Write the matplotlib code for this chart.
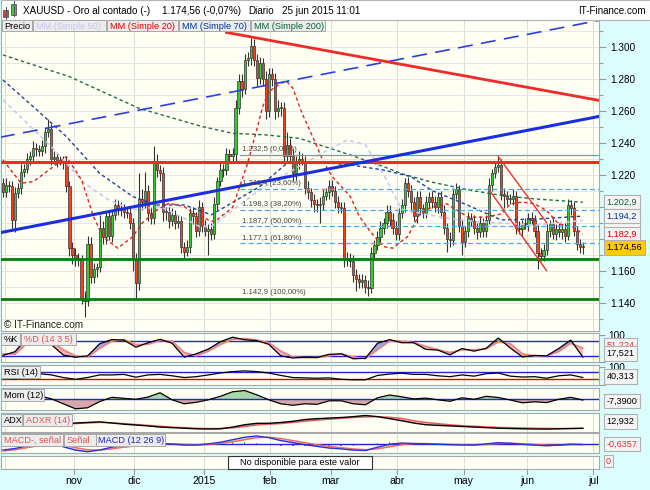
import matplotlib
matplotlib.use("Agg")
import matplotlib.pyplot as plt
from matplotlib.patches import Rectangle
from matplotlib.transforms import blended_transform_factory
import numpy as np
import pandas as pd

W, H = 650, 490
plt.rcParams['font.family'] = ['Liberation Sans', 'DejaVu Sans']
FS = 7.2      # price scale
FS_LBL = 6.6  # legend / panel labels
FS_BOX = 6.6  # value boxes

# ---- XAUUSD daily candles ----
dates = pd.bdate_range("2014-09-30", "2015-06-25")
first_open = 1215.0
closes = [
    1209.0, 1214.0, 1213.0, 1192.0, 1208.5, 1212.0, 1222.0, 1224.0, 1230.0, 1232.0,
    1237.0, 1236.0, 1235.0, 1238.0, 1247.0, 1249.0, 1230.0, 1231.0, 1229.0, 1229.0,
    1228.0, 1213.0, 1174.0, 1170.0, 1168.0, 1167.0, 1143.0, 1141.0, 1177.0, 1156.0,
    1161.0, 1162.0, 1187.0, 1181.0, 1194.0, 1182.0, 1195.0, 1201.0, 1198.0, 1199.0,
    1197.0, 1196.0, 1190.0, 1167.0, 1152.0, 1205.0, 1203.0, 1210.0, 1196.0, 1193.0,
    1229.0, 1223.0, 1221.0, 1197.0, 1197.0, 1191.0, 1195.0, 1190.0, 1191.0, 1175.0,
    1172.0, 1175.0, 1196.0, 1194.0, 1185.0, 1200.0, 1188.0, 1185.0, 1186.0, 1183.0,
    1202.0, 1216.0, 1223.0, 1223.0, 1233.0, 1232.0, 1233.0, 1262.0, 1279.0, 1274.0,
    1292.0, 1293.0, 1301.0, 1292.0, 1281.0, 1290.0, 1280.0, 1260.0, 1283.0, 1280.0,
    1260.0, 1262.0, 1262.0, 1232.0, 1239.0, 1232.0, 1221.0, 1228.0, 1230.0, 1229.0,
    1212.0, 1209.0, 1204.0, 1202.0, 1201.0, 1202.0, 1207.0, 1209.0, 1213.0, 1210.0,
    1203.0, 1200.0, 1199.0, 1167.0, 1168.0, 1166.0, 1157.0, 1155.0, 1153.0, 1154.0,
    1150.0, 1149.0, 1171.0, 1176.0, 1181.0, 1187.0, 1190.0, 1197.0, 1192.0, 1187.0,
    1183.0, 1196.0, 1201.0, 1215.0, 1210.0, 1203.0, 1194.0, 1206.0, 1199.0, 1196.0,
    1203.0, 1206.0, 1203.0, 1200.0, 1206.0, 1197.0, 1187.0, 1180.0, 1179.0, 1208.0,
    1211.0, 1188.0, 1178.0, 1185.0, 1193.0, 1191.0, 1187.0, 1184.0, 1190.0, 1185.0,
    1192.0, 1214.0, 1221.0, 1225.0, 1226.0, 1208.0, 1207.0, 1205.0, 1205.0, 1207.0,
    1187.0, 1186.0, 1189.0, 1189.0, 1193.0, 1192.0, 1185.0, 1171.0, 1169.0, 1173.0,
    1185.0, 1189.0, 1183.0, 1186.0, 1184.0, 1186.0, 1182.0, 1201.0, 1199.0, 1185.0,
    1177.0, 1175.0, 1174.56]
wick_up = [
    3, 4, 2, 3, 4, 3, 5, 3, 4, 3,  4, 3, 3, 4, 3, 6, 3, 4, 3, 3,
    3, 4, 3, 4, 4, 3, 3, 4, 5, 4,  4, 3, 8, 4, 3, 4, 3, 4, 3, 4,
    3, 3, 4, 3, 4, 16, 6, 12, 4, 4,  9, 4, 3, 4, 3, 3, 4, 3, 4, 3,
    3, 4, 3, 4, 3, 4, 3, 4, 3, 4,  4, 3, 5, 4, 4, 3, 4, 5, 4, 4,
    4, 4, 5, 4, 4, 4, 3, 5, 4, 4,  4, 5, 4, 4, 8, 4, 4, 4, 5, 4,
    3, 4, 3, 4, 3, 4, 4, 3, 4, 4,  3, 4, 3, 4, 4, 3, 4, 4, 3, 4,
    3, 4, 4, 3, 4, 4, 3, 4, 4, 4,  4, 3, 4, 3, 4, 4, 3, 4, 4, 3,
    4, 3, 4, 4, 3, 4, 4, 3, 4, 4,  4, 3, 4, 3, 4, 3, 4, 3, 4, 3,
    3, 4, 3, 4, 5, 4, 4, 3, 3, 4,  3, 4, 3, 4, 3, 4, 3, 4, 3, 4,
    4, 3, 4, 3, 4, 3, 4, 4, 3, 4,  3, 3, 3]
wick_dn = [
    3, 3, 4, 7, 8, 3, 4, 3, 3, 4,  3, 4, 3, 3, 4, 3, 4, 3, 4, 3,
    4, 4, 5, 6, 5, 4, 4, 10, 3, 4,  4, 5, 3, 4, 4, 3, 4, 3, 3, 4,
    4, 3, 4, 7, 9, 4, 5, 4, 5, 4,  4, 4, 5, 6, 5, 4, 3, 4, 3, 4,
    4, 3, 4, 5, 4, 3, 4, 3, 15, 4,  3, 4, 3, 4, 3, 4, 3, 4, 4, 5,
    3, 4, 4, 4, 5, 4, 4, 5, 4, 4,  5, 4, 5, 4, 4, 4, 5, 4, 4, 3,
    4, 4, 4, 5, 4, 11, 4, 3, 4, 3,  4, 4, 3, 5, 4, 4, 4, 8, 4, 4,
    4, 5, 3, 4, 3, 4, 4, 3, 4, 4,  4, 4, 3, 4, 4, 6, 3, 4, 4, 3,
    3, 4, 4, 3, 4, 4, 4, 8, 4, 3,  3, 4, 8, 3, 4, 3, 4, 4, 3, 4,
    4, 3, 4, 3, 3, 4, 8, 4, 3, 4,  4, 3, 4, 3, 4, 3, 4, 10, 3, 3,
    3, 4, 3, 4, 3, 4, 4, 3, 4, 3,  4, 4, 4]

# moving averages, read at a few bars (bar index, value)
mm20_idx = [0, 6, 10, 16, 21, 26, 30, 33, 38, 43, 46, 51, 55, 60, 63, 68, 70, 76, 81, 84,
            86, 88, 92, 94, 96, 99, 103, 106, 109, 115, 118, 122, 126, 129, 134, 138, 142,
            147, 154, 160, 165, 168, 172, 176, 180, 184, 189, 192]
mm20_val = [1229.4, 1214.8, 1215.8, 1224.2, 1231.5, 1216.9, 1193.9, 1181.4, 1174.1, 1181.4,
            1189.7, 1198.1, 1202.3, 1200.2, 1196.0, 1191.8, 1190.7, 1199.5, 1227.3, 1248.2,
            1262.8, 1272.2, 1277.5, 1278.5, 1274.3, 1258.7, 1242.0, 1228.5, 1219.0, 1206.5,
            1194.0, 1183.6, 1175.1, 1174.1, 1181.4, 1195.6, 1199.8, 1201.9, 1193.5, 1193.5,
            1195.6, 1201.9, 1203.0, 1201.9, 1197.7, 1189.3, 1187.2, 1182.9]
mm50_idx = [0, 16, 27, 35, 43, 52, 59, 65, 69, 85, 96, 105, 114, 120, 127, 132, 138, 148,
            158, 165, 176, 192]
mm50_val = [1267.0, 1237.8, 1214.8, 1204.4, 1198.1, 1200.2, 1193.9, 1187.7, 1187.7, 1210.6,
            1223.1, 1233.0, 1241.9, 1239.0, 1216.9, 1198.5, 1196.0, 1192.6, 1190.5, 1190.0,
            1188.5, 1191.5]
mm70_idx = [0, 10, 21, 32, 43, 51, 60, 69, 85, 94, 102, 115, 126, 135, 142, 154, 165, 178, 192]
mm70_val = [1279.5, 1262.8, 1244.0, 1221.0, 1206.4, 1201.2, 1201.2, 1195.0, 1212.7, 1227.3,
            1228.4, 1226.3, 1223.1, 1219.0, 1210.3, 1200.9, 1191.8, 1192.5, 1194.2]
mm200_idx = [0, 22, 45, 66, 76, 87, 98, 115, 126, 132, 142, 154, 165, 176, 192]
mm200_val = [1295.2, 1281.6, 1261.8, 1250.3, 1246.1, 1245.1, 1243.0, 1232.5, 1225.2, 1220.8,
             1215.5, 1210.7, 1207.1, 1205.0, 1202.9]

# drawn trend lines and levels
blue_idx, blue_val = [-1, 198], [1183.8, 1256.9]
blue_dash_idx, blue_dash_val = [-1, 198], [1243.6, 1317.1]
red_idx, red_val = [74, 198], [1309.3, 1266.5]
chan_up_idx, chan_up_val = [164, 180], [1231.5, 1190.1]
chan_lo_idx, chan_lo_val = [161, 180], [1210.6, 1160.0]
red_level = 1228.3
green_levels = [1167.5, 1142.5]
fib_start = 78.5
fib_levels = [1232.5, 1211.4, 1198.3, 1187.7, 1177.1, 1142.9]
fib_pcts = ["0,00%", "23,60%", "38,20%", "50,00%", "61,80%", "100,00%"]

# indicators, read every 4 bars
ind_idx = list(range(0, 193, 4))
stoch_k = [24, 38, 92, 90, 65, 25, 17, 22, 68, 84, 82, 55, 72, 85, 70, 17, 30, 48, 76, 93,
           83, 80, 66, 22, 14, 17, 16, 28, 30, 11, 13, 70, 84, 72, 72, 47, 44, 26, 50, 40,
           51, 90, 52, 18, 24, 22, 50, 82, 17.521]
stoch_d = [30, 28, 70, 88, 78, 45, 22, 18, 50, 78, 84, 65, 66, 80, 78, 35, 22, 40, 65, 85,
           88, 82, 72, 40, 18, 15, 16, 22, 30, 18, 12, 45, 78, 78, 73, 58, 46, 35, 45, 45,
           48, 75, 68, 30, 22, 22, 38, 70, 51.224]
rsi = [36, 32, 40, 62, 55, 40, 30, 40, 55, 55, 58, 42, 55, 58, 50, 40, 45, 55, 66, 74,
       78, 74, 66, 52, 40, 38, 36, 38, 30, 27, 27, 52, 60, 65, 58, 58, 50, 45, 55, 48,
       62, 66, 48, 43, 45, 36, 50, 55, 40.313]
mom = [5, 12, 28, 35, 5, -45, -95, -85, -23, 20, 10, 0, 22, 65, -5, -45, -30, -5, 30, 75,
       88, 45, -5, -45, -60, -45, -50, -15, -15, -45, -55, 15, 43, 25, 4, 12, -5, -20, 15, 0,
       30, 18, -7, -35, -25, -33, 0, 20, -7.39]
adx = [20, 19, 18, 18, 19, 20, 22, 23, 24, 22, 20, 18.5, 17, 15, 14, 13, 12, 11.7, 12, 15,
       19, 21.5, 21.5, 23, 25, 28, 29.5, 30.5, 31.5, 33, 35, 33, 29.5, 26, 22, 19, 18, 17, 16,
       15, 14, 13, 12.5, 12, 11.7, 11.5, 12, 12.5, 12.932]
adxr = [20, 19.5, 19, 18.5, 19, 19.5, 21, 22, 23, 22.5, 21, 19.5, 18, 16.5, 15, 14, 13, 12.5,
        12.5, 13.5, 16, 18.5, 20, 21, 23, 25, 27, 28.5, 30, 31.5, 32.5, 33, 32, 30, 26, 23, 21,
        19, 17.5, 16.5, 15.5, 14.5, 14, 13.5, 13, 12.8, 12.5, 12.5, 12.7]
macd = [-14, -10, -4, 1, 2, -6, -14, -17.8, -13.7, -7, -3, -1, 2, 2.4, 0.5, -1.7, -1.7, 1, 5,
        11, 17, 20, 16, 9, 4, -1, -5, -9, -11, -14, -15, -7, 0, 3, 2, 1, 0, -1, -1.5, -1.7,
        1, 4, 2.5, 0, -2, -3.5, -2, 0.5, -0.6357]
signal = [-16, -13, -8, -3, 0, -2, -8, -13, -14, -11, -7, -4, -1, 1, 1, 0, -1, -0.5, 2, 6,
          11, 16, 17, 14, 9, 4, -1, -5, -8, -11, -13, -11, -6, -1, 1.5, 2, 1, 0, -1, -1.5,
          -0.5, 2, 2.5, 1.5, 0, -2, -2.5, -1, -0.3]

MONTHS = ['2015', 'feb', 'mar', 'abr', 'may', 'jun', 'jul', 'ago', 'sep', 'oct', 'nov', 'dic']


def es(v, dec):
    # spanish number format: 1.234,5
    s = f"{v:,.{dec}f}"
    return s.replace(',', '#').replace('.', ',').replace('#', '.')


fig = plt.figure(figsize=(W / 100, H / 100), dpi=100)
fig.patch.set_facecolor('#dcfdfd')


def px_axes(x0, y0, x1, y1):
    return fig.add_axes([x0 / W, 1 - y1 / H, (x1 - x0) / W, (y1 - y0) / H])


XL = (-0.66, 197.35)
cal = pd.bdate_range("2014-09-30", "2015-07-10")
month_edges = [i - 0.5 for i in range(1, len(cal)) if cal[i].month != cal[i - 1].month]
month_names = [MONTHS[cal[i].month - 1] for i in range(1, len(cal)) if cal[i].month != cal[i - 1].month]


def style_panel(a, lo, hi):
    a.set_facecolor('#fffff4')
    a.set_xlim(XL)
    a.set_ylim(lo, hi)
    for s in a.spines.values():
        s.set_color('#a8a8a8')
        s.set_linewidth(0.8)
    a.set_xticks([])
    a.yaxis.tick_right()
    a.tick_params(axis='y', length=4, color='#999999', labelsize=FS, pad=3)
    a.set_yticks([])
    for e in month_edges:
        a.axvline(e, color='#dedede', lw=0.8, zorder=0)


# ---------------- main price panel ----------------
ax = px_axes(1, 20, 599, 331)
style_panel(ax, 1122.2, 1317.1)
ax.set_yticks(range(1140, 1301, 20))
ax.set_yticklabels([es(v, 0) for v in range(1140, 1301, 20)])
ax.set_yticks(range(1130, 1311, 10), minor=True)
ax.tick_params(axis='y', which='major', length=5, width=0.8)
ax.tick_params(axis='y', which='minor', length=3, width=0.8, color='#999999')
ax.grid(axis='y', which='both', color='#e6e6e6', lw=0.7)
ax.set_axisbelow(True)

idx = np.arange(len(closes))
c = np.array(closes)
o = np.r_[first_open, c[:-1]]
lo_b = np.minimum(o, c)
hi_b = np.maximum(o, c)
cols = np.where(c >= o, '#33cc33', '#ff3c1c')
ax.vlines(idx, lo_b - np.array(wick_dn), hi_b + np.array(wick_up), color='#333333', lw=0.8, zorder=2)
ax.bar(idx, np.maximum(hi_b - lo_b, 0.6), bottom=lo_b, width=0.72, color=cols,
       edgecolor='#333333', linewidth=0.5, zorder=3)

dash = (0, (2.5, 2))
ax.plot(mm200_idx, mm200_val, color='#1f7045', lw=1.0, ls=dash, zorder=4)
ax.plot(mm70_idx, mm70_val, color='#1f3fa0', lw=1.0, ls=dash, zorder=4)
ax.plot(mm50_idx, mm50_val, color='#c8c8f2', lw=1.2, ls=dash, zorder=4)
ax.plot(mm20_idx, mm20_val, color='#dd2222', lw=1.0, ls=dash, zorder=4)

for lev, pct in zip(fib_levels, fib_pcts):
    ls = '-' if pct == "0,00%" else (0, (4, 2.5))
    if pct != "100,00%":
        ax.plot([fib_start, XL[1]], [lev, lev], color='#44aaee', lw=0.9, ls=ls, zorder=4)
    ax.text(fib_start + 0.7, lev + 3.3, f"{es(lev, 1)} ({pct})", fontsize=5.6,
            color='#444444', va='center', ha='left', zorder=6)

ax.axhline(red_level, color='#ee2a2a', lw=2.2, zorder=5)
for g in green_levels:
    ax.axhline(g, color='#0a7a0a', lw=2.0, zorder=5)
ax.plot(blue_idx, blue_val, color='#1a2ee0', lw=2.2, zorder=5)
ax.plot(blue_dash_idx, blue_dash_val, color='#2a3ee8', lw=1.2, ls=(0, (9, 5)), zorder=5)
ax.plot(red_idx, red_val, color='#ee2a2a', lw=2.0, zorder=5)
ax.plot(chan_up_idx, chan_up_val, color='#ee3030', lw=1.0, zorder=5)
ax.plot(chan_lo_idx, chan_lo_val, color='#ee3030', lw=1.0, zorder=5)

# value boxes on the price scale
tr = blended_transform_factory(fig.transFigure, ax.transData)
boxes = [(mm50_val[-1], '#b8b8ee', '#f4f4f4'), (mm200_val[-1], '#006633', '#f4f4f4'),
         (mm70_val[-1], '#003399', '#f4f4f4'), (mm20_val[-1], '#cc0000', '#f4f4f4')]
for v, tc, fc in boxes:
    ax.text(606.5 / W, v, es(v, 1), transform=tr, fontsize=FS_BOX, color=tc, va='center', ha='left',
            bbox=dict(boxstyle='square,pad=0.3', fc=fc, ec='#b0b0b0', lw=0.8), zorder=10)
ax.text(606.5 / W, closes[-1], es(closes[-1], 2), transform=tr, fontsize=FS_BOX, color='black',
        va='center', ha='left', bbox=dict(boxstyle='square,pad=0.3', fc='#ffcc00', ec='#b0b0b0', lw=0.8),
        zorder=11)

# ---------------- stochastic ----------------
a1 = px_axes(1, 333, 599, 361.7)
style_panel(a1, 1.25, 108.9)
a1.set_yticks([0, 100])
a1.set_yticklabels(['', '100'])
a1.axhline(80, color='#2222dd', lw=1, zorder=2)
a1.axhline(20, color='#2222dd', lw=1, zorder=2)
k, d = np.array(stoch_k), np.array(stoch_d)
a1.fill_between(ind_idx, k, d, where=k >= d, interpolate=True, color='#a4a4e0', lw=0, zorder=1)
a1.fill_between(ind_idx, k, d, where=k < d, interpolate=True, color='#f5b4b4', lw=0, zorder=1)
a1.plot(ind_idx, d, color='#f08080', lw=1.2, zorder=3)
a1.plot(ind_idx, k, color='black', lw=0.9, zorder=3)

# ---------------- RSI ----------------
a2 = px_axes(1, 365, 599, 385)
style_panel(a2, -2.6, 111.7)
a2.set_yticks([0, 100])
a2.set_yticklabels(['', '100'])
a2.axhline(70, color='#2222dd', lw=1)
a2.axhline(30, color='#dd0000', lw=1)
a2.plot(ind_idx, rsi, color='black', lw=0.9, zorder=3)

# ---------------- momentum ----------------
a3 = px_axes(1, 388, 599, 410)
style_panel(a3, -107, 113)
m = np.array(mom, dtype=float)
a3.fill_between(ind_idx, m, 0, where=m >= 0, interpolate=True, color='#a8d8a8', lw=0)
a3.fill_between(ind_idx, m, 0, where=m < 0, interpolate=True, color='#d8a8a8', lw=0)
a3.axhline(0, color='#2222dd', lw=1)
a3.plot(ind_idx, m, color='black', lw=0.9, zorder=3)

# ---------------- ADX ----------------
a4 = px_axes(1, 413, 599, 432)
style_panel(a4, 6.5, 39.3)
x1, x2 = np.array(adx), np.array(adxr)
a4.fill_between(ind_idx, x1, x2, where=x1 >= x2, interpolate=True, color='#a4a4e0', lw=0)
a4.fill_between(ind_idx, x1, x2, where=x1 < x2, interpolate=True, color='#f5b4b4', lw=0)
a4.plot(ind_idx, x2, color='#ee5555', lw=1.0, zorder=3)
a4.plot(ind_idx, x1, color='black', lw=1.0, zorder=3)

# ---------------- MACD ----------------
a5 = px_axes(1, 433, 599, 452.7)
style_panel(a5, -20.2, 27.2)
mc, sg = np.array(macd), np.array(signal)
hist = mc - sg
a5.bar(ind_idx, hist, width=0.5, color=np.where(hist >= 0, '#33bb33', '#dd4444'), zorder=2)
a5.fill_between(ind_idx, mc, sg, color='#f5c4c4', lw=0, zorder=1)
a5.axhline(0, color='#2222dd', lw=1, zorder=2)
a5.plot(ind_idx, sg, color='#ee6666', lw=1.0, zorder=3)
a5.plot(ind_idx, mc, color='#2233dd', lw=1.0, zorder=3)

# ---------------- empty panel + date axis ----------------
a6 = px_axes(1, 455.7, 599, 469.3)
style_panel(a6, 0, 1)

ov = fig.add_axes([0, 0, 1, 1])
ov.set_xlim(0, W)
ov.set_ylim(H, 0)
ov.axis('off')
ov.patch.set_alpha(0)

# header
ov.add_patch(Rectangle((0.5, 0.5), W - 1, 19.5, fc='white', ec='#b4b4b4', lw=0.8))
ov.plot([5.5, 5.5], [7, 19], color='#555555', lw=0.7)
ov.add_patch(Rectangle((3, 10), 5, 7, fc='#e04040', ec='#555555', lw=0.6))
ov.plot([13.5, 13.5], [1.5, 16], color='#555555', lw=0.7)
ov.add_patch(Rectangle((11, 4), 5, 11, fc='#33d033', ec='#555555', lw=0.6))
FS_HEAD = 7.1
ov.text(23, 11, "XAUUSD - Oro al contado (-)", fontsize=FS_HEAD, va='center')
ov.text(162, 11, "1.174,56 (-0,07%)", fontsize=FS_HEAD, va='center')
ov.text(248, 11, "Diario", fontsize=FS_HEAD, va='center')
ov.text(282, 11, "25 jun 2015 11:01", fontsize=FS_HEAD, va='center')
ov.text(646, 11, "IT-Finance.com", fontsize=FS_HEAD, va='center', ha='right')

# legend row over the price panel
legend = [("Precio", 2, 32, 'black'), ("MM (Simple 50)", 33, 106, '#c4c4f4'),
          ("MM (Simple 20)", 107, 178, '#dd0000'), ("MM (Simple 70)", 179, 250, '#003399'),
          ("MM (Simple 200)", 251, 325, '#006633')]


def label_boxes(items, y0, y1):
    for txt, bx0, bx1, tc in items:
        ov.add_patch(Rectangle((bx0, y0), bx1 - bx0, y1 - y0, fc='#ececec', ec='#a8a8a8', lw=0.7))
        ov.text(bx0 + 2.5, (y0 + y1) / 2 + 0.5, txt, fontsize=FS_LBL, color=tc, va='center')


label_boxes(legend, 20.5, 31)
label_boxes([("%K", 1, 20, 'black'), ("%D (14 3 5)", 21, 76, '#e05555')], 333, 345)
label_boxes([("RSI (14)", 1, 40, 'black')], 366, 378)
label_boxes([("Mom (12)", 1, 44, 'black')], 389, 401)
label_boxes([("ADX", 1, 22, 'black'), ("ADXR (14)", 23, 72, '#e05555')], 414, 426)
label_boxes([("MACD-, señal", 1, 63, '#e05555'), ("Señal", 64, 96, '#e05555'),
             ("MACD (12 26 9)", 96, 165, '#2222cc')], 434, 446)

ov.text(4, 325, "© IT-Finance.com", fontsize=7.2, va='center', color='#222222')

ov.add_patch(Rectangle((228, 456), 144, 13, fc='white', ec='#333333', lw=0.8))
ov.text(300, 462.8, "No disponible para este valor", fontsize=FS_LBL, ha='center', va='center')


def vbox(y, s, tc='black', fc='#f4f4f4'):
    ov.text(606.5, y, s, fontsize=FS_BOX, color=tc, va='center', ha='left',
            bbox=dict(boxstyle='square,pad=0.3', fc=fc, ec='#b0b0b0', lw=0.8))


vbox(345, es(stoch_d[-1], 3), tc='#dd3333')
vbox(353.5, es(stoch_k[-1], 3))
vbox(376.5, es(rsi[-1], 3))
vbox(401, es(mom[-1], 4))
vbox(421.5, es(adx[-1], 3))
vbox(444, es(macd[-1], 4), tc='#dd3333')
ov.text(606, 461, "0", fontsize=FS_BOX, color='#dd3333', va='center', ha='left',
        bbox=dict(boxstyle='square,pad=0.2', fc='#f4f4f4', ec='#b0b0b0', lw=0.8))

# month labels along the bottom
for e, name in zip(month_edges, month_names):
    xp = 1 + (e - XL[0]) * 598 / (XL[1] - XL[0])
    if xp < 20 or xp > 598:
        continue
    ov.plot([xp, xp], [470, 473.5], color='#999999', lw=0.8)
    ov.text(xp, 480.5, name, fontsize=7.6, ha='center', va='center')

fig.savefig("out.png", dpi=100, facecolor=fig.get_facecolor())
